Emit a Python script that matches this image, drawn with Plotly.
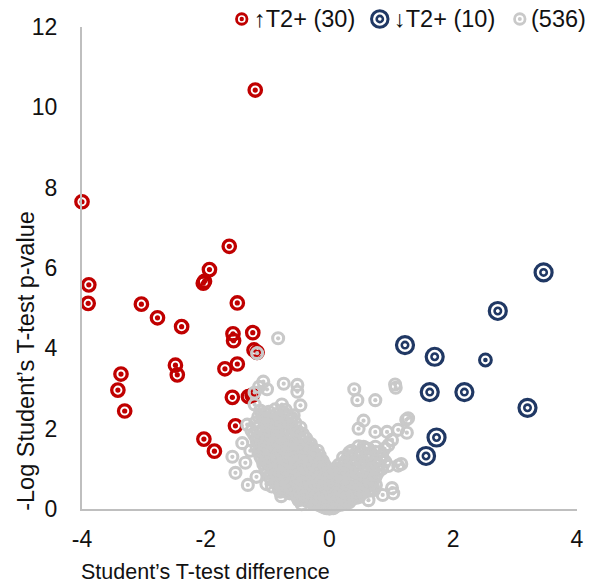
import plotly.graph_objects as go

# ---- data -------------------------------------------------------------
# proteins up in T2+ (difference, -log p)
red_x = [-1.20, -4.00, -3.89, -3.90, -3.04, -2.78, -2.39, -1.62, -1.94, -2.04,
         -2.02, -1.49, -1.56, -1.55, -1.24, -1.22, -1.17, -1.49, -1.69, -2.49,
         -2.46, -3.37, -3.42, -3.31, -1.57, -1.31, -1.25, -1.52, -2.03, -1.86]
red_y = [10.43, 7.65, 5.58, 5.12, 5.10, 4.76, 4.54, 6.54, 5.96, 5.62,
         5.67, 5.13, 4.36, 4.19, 4.39, 3.96, 3.90, 3.61, 3.49, 3.58,
         3.34, 3.36, 2.96, 2.44, 2.78, 2.80, 2.83, 2.07, 1.74, 1.44]

# proteins down in T2+
blue_x = [3.46, 2.72, 1.22, 1.70, 1.62, 2.18, 3.20, 1.73, 1.56]
blue_y = [5.89, 4.93, 4.08, 3.79, 2.91, 2.91, 2.52, 1.78, 1.32]
blue_small_x = [2.52]
blue_small_y = [3.71]

# non-significant proteins: scattered points around the core
gray_outer = [
    (-0.83, 4.25), (-1.17, 3.88), (-1.07, 3.17), (-1.01, 2.98), (-0.74, 3.12),
    (-0.52, 3.09), (-0.52, 2.92), (-0.77, 2.60), (-0.47, 2.58), (-1.21, 2.90),
    (-1.21, 2.60), (-1.33, 2.10), (-1.41, 1.64), (-1.57, 1.30), (-1.52, 0.90),
    (-1.32, 0.60), (-0.93, 0.56), (-0.64, 0.39), (-1.14, 3.04), (-1.09, 2.27),
    (-0.83, 2.27), (-0.61, 2.27), (-1.26, 1.95), (-1.28, 1.45), (-1.36, 1.15),
    (-1.18, 0.80), (-1.02, 0.62), (-0.78, 0.32), (0.40, 2.98), (0.45, 2.71),
    (0.74, 2.71), (1.06, 3.10), (1.07, 3.02), (0.55, 2.20), (0.47, 2.00),
    (0.74, 1.92), (0.93, 1.92), (1.11, 1.97), (1.27, 2.26), (1.25, 1.90),
    (1.01, 1.72), (0.95, 1.59), (0.55, 1.55), (0.82, 1.26), (1.11, 1.08),
    (1.16, 1.12), (1.01, 0.52), (1.03, 0.39), (0.63, 0.22), (0.32, 1.41),
    (0.58, 1.51), (1.24, 2.22), (0.86, 0.35), (-0.45, 0.12),
]

# left arm of the volcano, upper part
gray_left_upper = [
    (-1.12, 2.45), (-1.05, 2.38), (-0.98, 2.42), (-0.92, 2.30), (-0.86, 2.36),
    (-0.80, 2.25), (-0.74, 2.40), (-0.68, 2.28), (-0.62, 2.22), (-1.08, 2.24),
    (-0.95, 2.21), (-0.88, 2.48), (-1.15, 2.30), (-0.71, 2.47), (-0.58, 2.33),
    (-1.20, 2.15), (-1.14, 2.05), (-1.10, 1.95), (-1.06, 2.18), (-1.02, 2.02),
    (-0.98, 1.92), (-0.95, 2.12), (-0.91, 2.00), (-0.87, 1.94), (-0.84, 2.16),
    (-0.80, 2.06), (-0.77, 1.96), (-0.73, 2.12), (-0.69, 2.02), (-0.66, 1.92),
    (-0.62, 2.08), (-0.58, 1.98), (-0.55, 2.14), (-0.51, 1.93), (-0.47, 2.03),
    (-1.17, 1.91), (-0.93, 2.19), (-0.75, 2.19), (-0.60, 1.91), (-1.00, 2.09),
    (-1.22, 1.85), (-1.18, 1.72), (-1.14, 1.62), (-1.11, 1.88), (-1.08, 1.76),
    (-1.04, 1.66), (-1.01, 1.83), (-0.97, 1.70), (-0.94, 1.61), (-0.90, 1.86),
    (-0.87, 1.75), (-0.83, 1.64), (-0.80, 1.82), (-0.76, 1.70), (-0.73, 1.60),
    (-0.69, 1.87), (-0.66, 1.77), (-0.62, 1.66), (-0.59, 1.84), (-0.55, 1.73),
    (-0.52, 1.62), (-0.48, 1.80), (-0.45, 1.69), (-0.41, 1.61), (-0.38, 1.76),
    (-0.34, 1.65), (-0.30, 1.62), (-1.16, 1.80), (-0.99, 1.62), (-0.85, 1.89),
    (-0.71, 1.64), (-0.57, 1.69), (-0.43, 1.87), (-0.92, 1.78), (-0.64, 1.61),
]

# both arms between -log p 1 and 1.6
gray_mid = [
    (-1.18, 1.55), (-1.15, 1.42), (-1.12, 1.32), (-1.09, 1.58), (-1.06, 1.47),
    (-1.03, 1.36), (-1.00, 1.54), (-0.97, 1.43), (-0.94, 1.31), (-0.91, 1.57),
    (-0.88, 1.46), (-0.85, 1.35), (-0.82, 1.52), (-0.79, 1.40), (-0.76, 1.30),
    (-0.73, 1.56), (-0.70, 1.45), (-0.67, 1.34), (-0.64, 1.51), (-0.61, 1.39),
    (-0.58, 1.31), (-0.55, 1.58), (-0.52, 1.47), (-0.49, 1.36), (-0.46, 1.53),
    (-0.43, 1.41), (-0.40, 1.32), (-0.37, 1.55), (-0.34, 1.44), (-0.31, 1.35),
    (-0.28, 1.50), (-0.25, 1.38), (-0.22, 1.31), (-0.19, 1.45), (-0.16, 1.34),
    (-1.13, 1.50), (-0.99, 1.38), (-0.86, 1.58), (-0.74, 1.37), (-0.62, 1.57),
    (-0.50, 1.42), (-0.39, 1.47), (-0.27, 1.33), (-0.95, 1.50), (-0.68, 1.50),
    (0.30, 1.32), (0.36, 1.45), (0.42, 1.35), (0.47, 1.56), (0.52, 1.40),
    (0.58, 1.32), (0.63, 1.50), (0.68, 1.38), (0.74, 1.55), (0.79, 1.42),
    (0.85, 1.33), (0.89, 1.50),
    (-1.10, 1.25), (-1.07, 1.12), (-1.04, 1.02), (-1.01, 1.28), (-0.98, 1.16),
    (-0.95, 1.05), (-0.92, 1.22), (-0.89, 1.10), (-0.86, 1.00), (-0.83, 1.27),
    (-0.80, 1.14), (-0.77, 1.04), (-0.74, 1.21), (-0.71, 1.09), (-0.68, 1.00),
    (-0.65, 1.26), (-0.62, 1.15), (-0.59, 1.03), (-0.56, 1.23), (-0.53, 1.11),
    (-0.50, 1.01), (-0.47, 1.28), (-0.44, 1.17), (-0.41, 1.06), (-0.38, 1.24),
    (-0.35, 1.12), (-0.32, 1.02), (-0.29, 1.20), (-0.26, 1.08), (-0.23, 1.00),
    (-0.20, 1.26), (-0.17, 1.14), (-0.14, 1.04), (-0.11, 1.20), (-0.08, 1.10),
    (-0.05, 1.02), (-1.05, 1.18), (-0.93, 1.29), (-0.81, 1.07), (-0.69, 1.19),
    (-0.57, 1.29), (-0.45, 1.02), (-0.33, 1.29), (-0.21, 1.15), (-0.10, 1.00),
    (-0.87, 1.18), (-0.63, 1.07), (-0.39, 1.13), (-0.15, 1.25), (-0.75, 1.29),
    (0.10, 1.02), (0.15, 1.10), (0.20, 1.00), (0.25, 1.18), (0.30, 1.06),
    (0.35, 1.25), (0.40, 1.12), (0.45, 1.02), (0.50, 1.20), (0.55, 1.08),
    (0.60, 1.27), (0.65, 1.14), (0.70, 1.03), (0.75, 1.22), (0.80, 1.10),
    (0.85, 1.00), (0.90, 1.18), (0.95, 1.07), (0.22, 1.28), (0.48, 1.29),
]

# dense base of the volcano, -log p 0.4 to 1
gray_base = [
    (-1.00, 0.92), (-0.97, 0.80), (-0.94, 0.72), (-0.91, 0.97), (-0.88, 0.85),
    (-0.85, 0.74), (-0.82, 0.93), (-0.79, 0.81), (-0.76, 0.71), (-0.73, 0.98),
    (-0.70, 0.86), (-0.67, 0.75), (-0.64, 0.94), (-0.61, 0.82), (-0.58, 0.70),
    (-0.55, 0.96), (-0.52, 0.84), (-0.49, 0.73), (-0.46, 0.91), (-0.43, 0.79),
    (-0.40, 0.71), (-0.37, 0.99), (-0.34, 0.87), (-0.31, 0.76), (-0.28, 0.95),
    (-0.25, 0.83), (-0.22, 0.72), (-0.19, 0.92), (-0.16, 0.80), (-0.13, 0.70),
    (-0.10, 0.97), (-0.07, 0.85), (-0.04, 0.74), (-0.01, 0.93), (0.02, 0.81),
    (0.05, 0.71), (0.08, 0.96), (0.11, 0.84), (0.14, 0.73), (0.17, 0.91),
    (0.20, 0.79), (0.23, 0.70), (0.26, 0.98), (0.29, 0.86), (0.32, 0.75),
    (0.35, 0.94), (0.38, 0.82), (0.41, 0.72), (0.44, 0.97), (0.47, 0.85),
    (0.50, 0.74), (0.53, 0.92), (0.56, 0.80), (0.59, 0.71), (0.62, 0.95),
    (0.65, 0.83), (0.68, 0.73), (0.71, 0.90), (0.74, 0.78), (0.77, 0.88),
    (0.80, 0.95), (-0.95, 0.88), (-0.80, 0.99), (-0.60, 0.77), (-0.42, 0.88),
    (-0.21, 0.99), (0.00, 0.78), (0.21, 0.89), (0.43, 0.78), (0.60, 0.89),
    (-0.85, 0.62), (-0.82, 0.50), (-0.80, 0.43), (-0.77, 0.66), (-0.75, 0.55),
    (-0.72, 0.45), (-0.70, 0.68), (-0.67, 0.58), (-0.65, 0.47), (-0.62, 0.64),
    (-0.60, 0.52), (-0.57, 0.41), (-0.55, 0.69), (-0.52, 0.57), (-0.50, 0.46),
    (-0.47, 0.63), (-0.45, 0.53), (-0.42, 0.42), (-0.40, 0.67), (-0.37, 0.56),
    (-0.35, 0.44), (-0.32, 0.65), (-0.30, 0.54), (-0.27, 0.43), (-0.25, 0.68),
    (-0.22, 0.59), (-0.20, 0.48), (-0.17, 0.62), (-0.15, 0.51), (-0.12, 0.41),
    (-0.10, 0.66), (-0.07, 0.55), (-0.05, 0.45), (-0.02, 0.69), (0.00, 0.58),
    (0.02, 0.47), (0.05, 0.64), (0.07, 0.52), (0.10, 0.42), (0.12, 0.67),
    (0.15, 0.57), (0.17, 0.46), (0.20, 0.63), (0.22, 0.53), (0.25, 0.43),
    (0.27, 0.68), (0.30, 0.56), (0.32, 0.44), (0.35, 0.65), (0.37, 0.54),
    (0.40, 0.42), (0.42, 0.69), (0.45, 0.59), (0.47, 0.48), (0.50, 0.62),
    (0.52, 0.51), (0.55, 0.41), (0.57, 0.66), (0.60, 0.55), (0.62, 0.45),
    (0.65, 0.63), (0.67, 0.50), (0.70, 0.58), (0.72, 0.47), (0.75, 0.60),
    (-0.78, 0.60), (-0.63, 0.49), (-0.48, 0.60), (-0.33, 0.48), (-0.18, 0.55),
    (-0.03, 0.50), (0.11, 0.60), (0.26, 0.49), (0.41, 0.55), (0.56, 0.48),
    (-0.68, 0.41), (-0.38, 0.63), (-0.08, 0.43), (0.23, 0.66), (0.48, 0.44),
]

# tip of the volcano, -log p below 0.4
gray_tip = [
    (-0.54, 0.36), (-0.52, 0.28), (-0.50, 0.22), (-0.48, 0.38), (-0.46, 0.31),
    (-0.44, 0.24), (-0.42, 0.35), (-0.40, 0.27), (-0.38, 0.21), (-0.36, 0.39),
    (-0.34, 0.32), (-0.32, 0.25), (-0.30, 0.37), (-0.28, 0.29), (-0.26, 0.22),
    (-0.24, 0.34), (-0.22, 0.26), (-0.20, 0.20), (-0.18, 0.38), (-0.16, 0.30),
    (-0.14, 0.23), (-0.12, 0.36), (-0.10, 0.28), (-0.08, 0.21), (-0.06, 0.39),
    (-0.04, 0.33), (-0.02, 0.25), (0.00, 0.37), (0.02, 0.29), (0.04, 0.22),
    (0.06, 0.35), (0.08, 0.27), (0.10, 0.20), (0.12, 0.38), (0.14, 0.31),
    (0.16, 0.24), (0.18, 0.36), (0.20, 0.28), (0.22, 0.21), (0.24, 0.39),
    (0.26, 0.32), (0.28, 0.25), (0.30, 0.37), (0.32, 0.29), (0.34, 0.22),
    (0.36, 0.34), (0.38, 0.26), (0.40, 0.33), (0.42, 0.38), (0.44, 0.28),
    (0.46, 0.35), (0.48, 0.30), (0.50, 0.37),
    (-0.47, 0.27), (-0.41, 0.31), (-0.35, 0.24), (-0.29, 0.33), (-0.23, 0.29),
    (-0.17, 0.25), (-0.11, 0.32), (-0.05, 0.28), (0.01, 0.33), (0.07, 0.31),
    (0.13, 0.27), (0.19, 0.33), (0.25, 0.27), (0.31, 0.34), (0.37, 0.30),
    (-0.27, 0.39), (0.15, 0.39),
    (-0.34, 0.19), (-0.31, 0.17), (-0.29, 0.19), (-0.27, 0.15), (-0.25, 0.18),
    (-0.23, 0.13), (-0.21, 0.16), (-0.19, 0.11), (-0.17, 0.18), (-0.15, 0.09),
    (-0.14, 0.14), (-0.12, 0.06), (-0.11, 0.17), (-0.10, 0.11), (-0.08, 0.04),
    (-0.07, 0.15), (-0.06, 0.08), (-0.05, 0.02), (-0.04, 0.12), (-0.03, 0.05),
    (-0.02, 0.18), (-0.01, 0.09), (0.00, 0.01), (0.00, 0.14), (0.01, 0.06),
    (0.02, 0.11), (0.03, 0.03), (0.04, 0.16), (0.05, 0.08), (0.06, 0.13),
    (0.07, 0.04), (0.08, 0.18), (0.09, 0.10), (0.10, 0.06), (0.11, 0.15),
    (0.13, 0.09), (0.14, 0.19), (0.16, 0.12), (0.18, 0.16), (0.20, 0.11),
    (0.22, 0.18), (0.24, 0.14), (0.26, 0.19), (0.28, 0.16), (0.30, 0.19),
    (0.32, 0.17), (-0.20, 0.19), (-0.13, 0.12), (-0.09, 0.19), (-0.04, 0.07),
    (0.02, 0.19), (0.06, 0.02), (0.12, 0.12), (0.17, 0.19), (-0.16, 0.15),
    (-0.01, 0.16), (0.05, 0.12), (-0.07, 0.10), (0.19, 0.14), (-0.24, 0.16),
]

gray_points = gray_outer + gray_left_upper + gray_mid + gray_base + gray_tip
gray_x = [p[0] for p in gray_points]
gray_y = [p[1] for p in gray_points]

x_ticks = [-4, -2, 0, 2, 4]
y_ticks = [0, 2, 4, 6, 8, 10, 12]

RED = "#C00000"
BLUE = "#203864"
GRAY = "#C9C9C9"
AXIS = "#BFBFBF"
FONT = "Arial, 'Liberation Sans', sans-serif"
TEXT = "#111111"

W, H = 595, 586
ML, MR, MT, MB = 82, 11, 27, 77
PW, PH = W - ML - MR, H - MT - MB


def px(xp):
    """pixel column -> paper x"""
    return (xp - ML) / PW


def py(yp):
    """pixel row -> paper y"""
    return (H - MB - yp) / PH


n_up = len(red_x)
n_down = len(blue_x) + len(blue_small_x)
n_ns = len(gray_x)

fig = go.Figure()


def target(xs, ys, color, ring_size, ring_width, dot_size):
    """ring marker with a solid centre dot"""
    fig.add_trace(go.Scatter(
        x=xs, y=ys, mode="markers", cliponaxis=False, showlegend=False,
        marker=dict(symbol="circle-open", size=ring_size, color=color,
                    line=dict(width=ring_width, color=color)),
    ))
    fig.add_trace(go.Scatter(
        x=xs, y=ys, mode="markers", cliponaxis=False, showlegend=False,
        hoverinfo="skip",
        marker=dict(symbol="circle", size=dot_size, color=color,
                    line=dict(width=0)),
    ))


target(red_x, red_y, RED, 12.4, 3.3, 5.2)
target(gray_x, gray_y, GRAY, 11.0, 3.1, 4.2)

# down-regulated: double ring (outer + inner)
fig.add_trace(go.Scatter(
    x=blue_x, y=blue_y, mode="markers", cliponaxis=False, showlegend=False,
    marker=dict(symbol="circle-open", size=17.0, color=BLUE,
                line=dict(width=3.2, color=BLUE)),
))
fig.add_trace(go.Scatter(
    x=blue_x, y=blue_y, mode="markers", cliponaxis=False, showlegend=False,
    hoverinfo="skip",
    marker=dict(symbol="circle-open", size=6.4, color=BLUE,
                line=dict(width=2.6, color=BLUE)),
))
target(blue_small_x, blue_small_y, BLUE, 11.8, 3.0, 4.6)


def ring(cx, cy, diameter, width, color, filled=False):
    r = diameter / 2
    fig.add_shape(type="circle", xref="paper", yref="paper",
                  xsizemode="pixel", ysizemode="pixel",
                  xanchor=px(cx), yanchor=py(cy),
                  x0=-r, x1=r, y0=-r, y1=r,
                  line=dict(color=color, width=0 if filled else width),
                  fillcolor=color if filled else "rgba(0,0,0,0)")


# legend row
LEG_Y = 19
ring(244, LEG_Y, 10.5, 2.8, RED)
ring(244, LEG_Y, 4.4, 0, RED, filled=True)
ring(384, LEG_Y, 16.5, 3.0, BLUE)
ring(384, LEG_Y, 6.2, 2.6, BLUE)
ring(526, LEG_Y, 10.5, 2.8, GRAY)
ring(526, LEG_Y, 4.0, 0, GRAY, filled=True)

legend_labels = [
    (254, f"\u2191T2+ ({n_up})"),
    (396, f"\u2193T2+ ({n_down})"),
    (535, f"({n_ns})"),
]
for lx, label in legend_labels:
    fig.add_annotation(x=px(lx), y=py(LEG_Y), xref="paper", yref="paper",
                       text=label, showarrow=False, xanchor="left",
                       yanchor="middle",
                       font=dict(family=FONT, size=23.5, color=TEXT))

# axis titles
fig.add_annotation(x=px(79), y=py(572), xref="paper", yref="paper",
                   text="Student\u2019s T-test difference", showarrow=False,
                   xanchor="left", yanchor="middle",
                   font=dict(family=FONT, size=21.5, color=TEXT))
fig.add_annotation(x=px(25), y=py(361), xref="paper", yref="paper",
                   text="-Log Student\u2019s T-test p-value", showarrow=False,
                   textangle=-90, xanchor="center", yanchor="middle",
                   font=dict(family=FONT, size=23.5, color=TEXT))

fig.update_layout(
    width=W, height=H,
    margin=dict(l=ML, r=MR, t=MT, b=MB),
    paper_bgcolor="white", plot_bgcolor="white",
    showlegend=False,
    font=dict(family=FONT, size=22, color=TEXT),
    xaxis=dict(range=[-4, 4], tickvals=x_ticks, ticktext=[str(v) for v in x_ticks],
               showgrid=False, zeroline=False, showline=True, linecolor=AXIS,
               linewidth=2, ticks="", ticklabelstandoff=8,
               tickfont=dict(family=FONT, size=23, color=TEXT)),
    yaxis=dict(range=[0, 12], tickvals=y_ticks, ticktext=[str(v) for v in y_ticks],
               showgrid=False, zeroline=False, showline=True, linecolor=AXIS,
               linewidth=2, ticks="", ticklabelstandoff=18,
               tickfont=dict(family=FONT, size=23, color=TEXT)),
)

fig.write_html("out.html")
